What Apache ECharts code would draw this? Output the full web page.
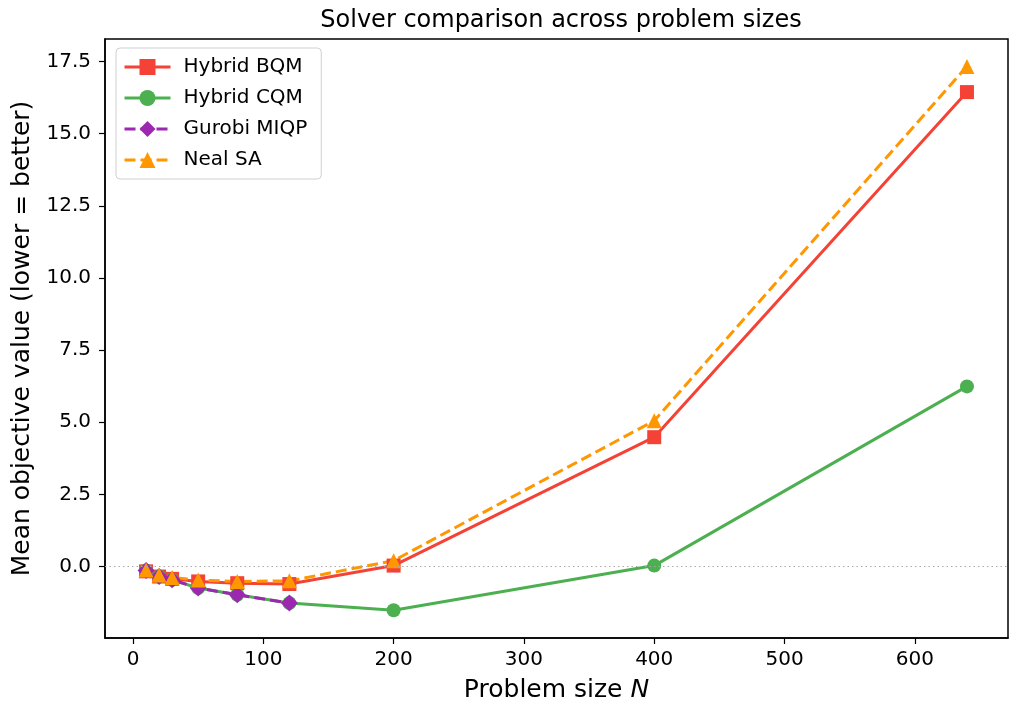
<html>
<head>
<meta charset="UTF-8">
</head>
<body style="margin:0">
<div id="container" style="width:1016px;height:716px"></div>
<script type="text/javascript" src="https://cdn.jsdelivr.net/npm/echarts@6/dist/echarts.min.js"></script>
<script type="text/javascript">
var sizes = [10, 20, 30, 50, 80, 120, 200, 400, 640];
var sizesMiqp = [10, 20, 30, 50, 80, 120];
var hybridBqm = [-0.17, -0.35, -0.43, -0.52, -0.58, -0.61, 0.03, 4.48, 16.44];
var hybridCqm = [-0.14, -0.35, -0.46, -0.75, -0.98, -1.27, -1.52, 0.03, 6.24];
var gurobiMiqp = [-0.14, -0.35, -0.46, -0.75, -0.98, -1.27];
var nealSa = [-0.12, -0.30, -0.38, -0.47, -0.52, -0.50, 0.20, 5.05, 17.33];
var xTicks = [0, 100, 200, 300, 400, 500, 600];
var yTicks = [0, 2.5, 5, 7.5, 10, 12.5, 15, 17.5];

function pairs(xs, ys) {
    var out = [];
    for (var i = 0; i < ys.length; i++) {
        out.push([xs[i], ys[i]]);
    }
    return out;
}

var font = 'DejaVu Sans';
var myChart = echarts.init(document.getElementById('container'));
var option = {
    animation: false,
    textStyle: {fontFamily: font},
    title: {
        text: 'Solver comparison across problem sizes',
        left: 556, top: 4, textAlign: 'center',
        textStyle: {fontFamily: font, fontSize: 24, fontWeight: 'normal', color: '#000'}
    },
    legend: {
        orient: 'vertical',
        left: 116, top: 48,
        padding: [9, 14, 9, 7],
        itemGap: 11,
        itemWidth: 46,
        itemHeight: 20,
        backgroundColor: '#fff',
        borderColor: '#d0d0d0',
        borderWidth: 1,
        borderRadius: 4,
        lineStyle: {width: 3},
        textStyle: {fontFamily: font, fontSize: 20, color: '#000', padding: [0, 0, 0, 8]},
        data: ['Hybrid BQM', 'Hybrid CQM', 'Gurobi MIQP', 'Neal SA']
    },
    grid: {
        left: 105, right: 8, top: 39, bottom: 78,
        show: true, borderColor: '#000', borderWidth: 1.5
    },
    xAxis: {
        type: 'value',
        min: -21.5, max: 671.5,
        name: '{n|Problem size }{i|N}',
        nameLocation: 'middle',
        nameGap: 40,
        nameTextStyle: {
            rich: {
                n: {fontFamily: font, fontSize: 25, color: '#000'},
                i: {fontFamily: font, fontSize: 25, color: '#000', fontStyle: 'italic'}
            }
        },
        axisLine: {show: true, onZero: false, lineStyle: {color: '#000', width: 1.5}},
        axisTick: {show: true, inside: false, length: 6, lineStyle: {color: '#000', width: 1.2}, customValues: xTicks},
        axisLabel: {color: '#000', fontSize: 20, margin: 12, customValues: xTicks},
        splitLine: {show: false}
    },
    yAxis: {
        type: 'value',
        min: -2.48, max: 18.28,
        name: 'Mean objective value (lower = better)',
        nameLocation: 'middle',
        nameGap: 70,
        nameTextStyle: {fontFamily: font, fontSize: 25, color: '#000'},
        axisLine: {show: true, onZero: false, lineStyle: {color: '#000', width: 1.5}},
        axisTick: {show: true, inside: false, length: 6, lineStyle: {color: '#000', width: 1.2}, customValues: yTicks},
        axisLabel: {
            color: '#000', fontSize: 20, margin: 14, customValues: yTicks,
            formatter: function (v) { return v.toFixed(1); }
        },
        splitLine: {show: false}
    },
    series: [
        {
            name: 'Hybrid BQM', type: 'line',
            data: pairs(sizes, hybridBqm),
            symbol: 'rect', symbolSize: 14,
            color: '#f44336',
            lineStyle: {width: 3},
            markLine: {
                silent: true, symbol: 'none', label: {show: false},
                lineStyle: {color: '#aaaaaa', type: [1.5, 3], width: 1.2},
                data: [{yAxis: 0}]
            }
        },
        {
            name: 'Hybrid CQM', type: 'line',
            data: pairs(sizes, hybridCqm),
            symbol: 'circle', symbolSize: 14,
            color: '#4caf50',
            lineStyle: {width: 3}
        },
        {
            name: 'Gurobi MIQP', type: 'line',
            data: pairs(sizesMiqp, gurobiMiqp),
            symbol: 'diamond', symbolSize: 17,
            color: '#9c27b0',
            lineStyle: {width: 3, type: [11, 5]}
        },
        {
            name: 'Neal SA', type: 'line',
            data: pairs(sizes, nealSa),
            symbol: 'triangle', symbolSize: 15,
            color: '#ff9800',
            lineStyle: {width: 3, type: [11, 5]}
        }
    ]
};
myChart.setOption(option);
</script>
</body>
</html>
